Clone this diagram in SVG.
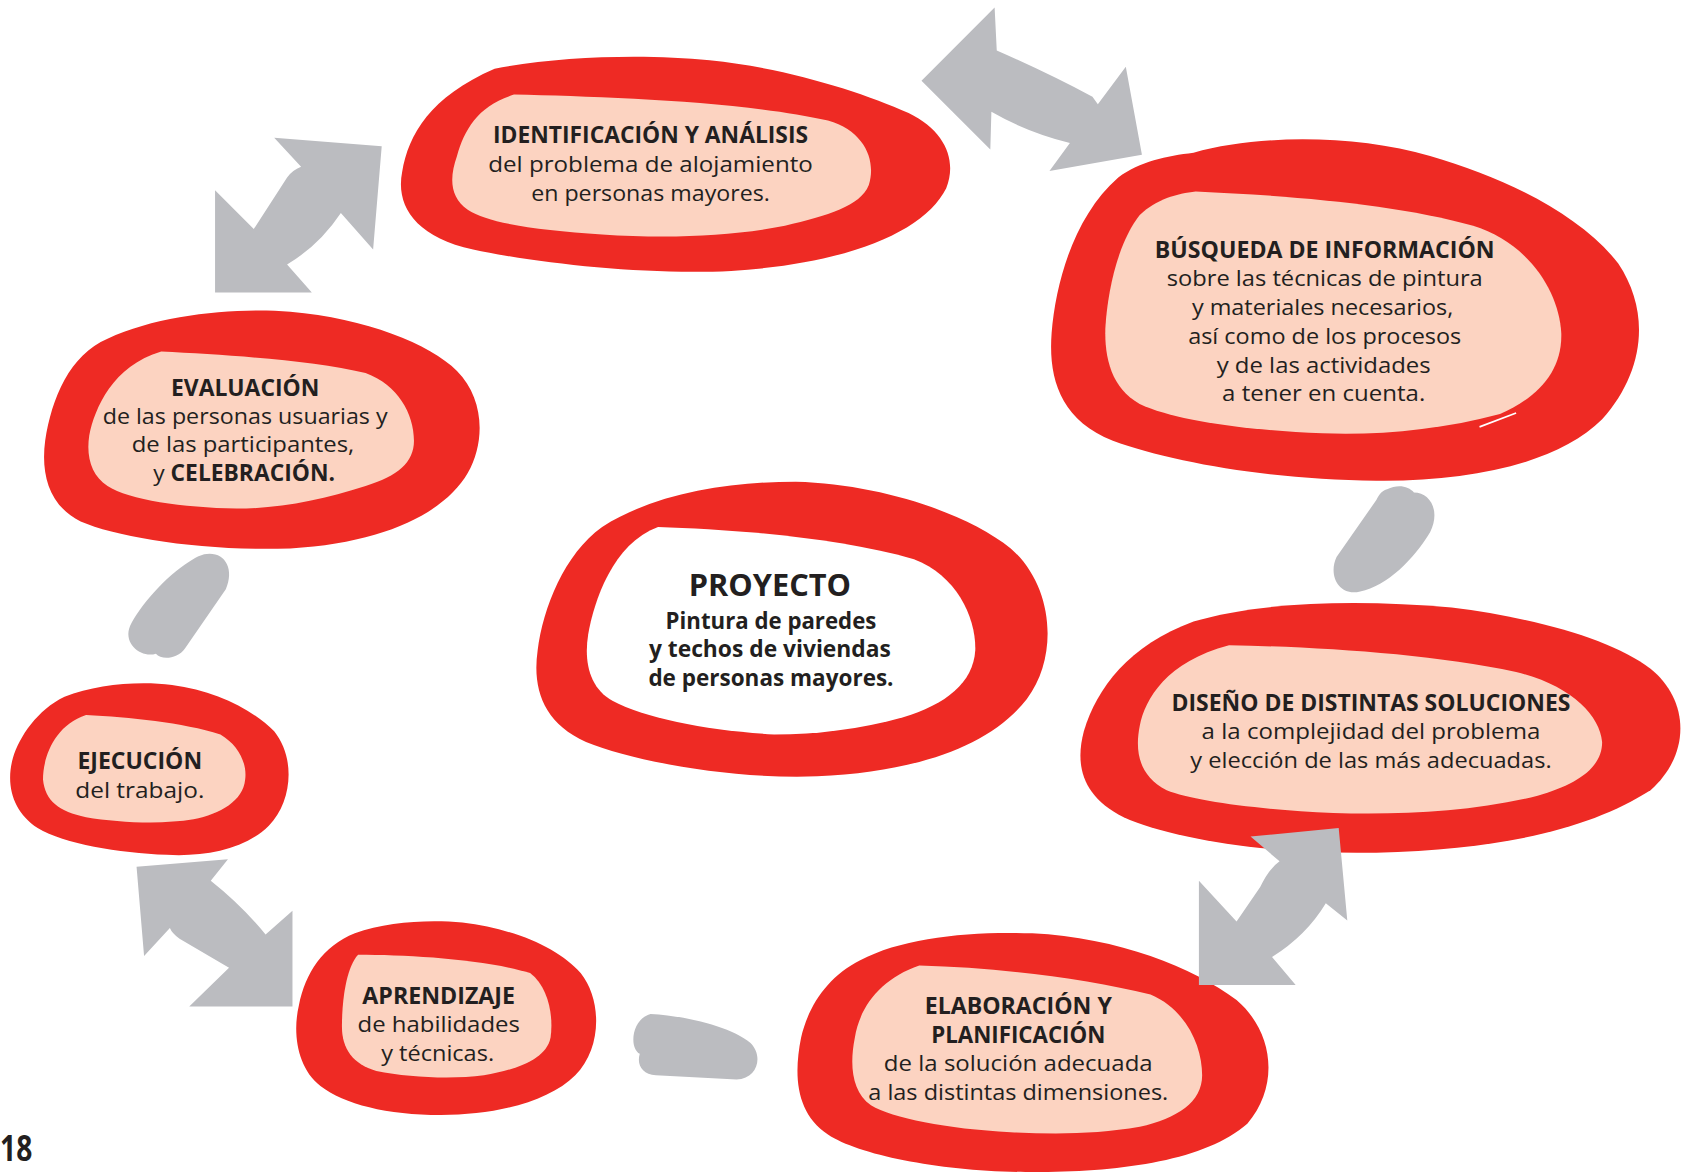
<svg xmlns="http://www.w3.org/2000/svg" width="1686" height="1172" viewBox="0 0 1686 1172">
<style>
.red{fill:#ee2a24}
.peach{fill:#fcd3c1}
.white{fill:#ffffff}
.con{fill:#bbbcc0}
text{font-family:"Open Sans","Noto Sans","Liberation Sans",sans-serif;fill:#231f20;font-size:21px;text-anchor:middle}
.b{font-weight:bold}
.big{font-size:28px}
.page{font-size:33px;text-anchor:start}
</style>
<rect width="1686" height="1172" fill="#ffffff"/>
<g transform="scale(1.07526)">
<g id="node-identificacion">
<path class="red" d="M460,64 C520,52 600,50 660,56 C730,63 800,85 845,105 C880,122 890,150 880,175 C860,215 790,245 680,252 C600,256 500,245 440,232 C385,220 368,190 374,160 C380,125 400,90 460,64 Z"/>
<path class="peach" d="M478,88 C560,90 690,94 770,112 C805,122 815,150 808,172 C800,192 770,200 730,210 C680,220 620,222 560,218 C500,214 455,208 435,195 C418,183 418,165 425,145 C432,120 445,98 478,88 Z"/>
<text class="b" x="605" y="133" textLength="293" lengthAdjust="spacingAndGlyphs">IDENTIFICACIÓN Y ANÁLISIS</text>
<text x="605" y="160" textLength="302" lengthAdjust="spacingAndGlyphs">del problema de alojamiento</text>
<text x="605" y="187" textLength="222" lengthAdjust="spacingAndGlyphs">en personas mayores.</text>
</g>
<g id="node-busqueda">
<path class="red" d="M1110,142 C1170,125 1260,125 1330,145 C1400,165 1470,200 1505,245 C1535,290 1530,345 1490,390 C1450,430 1370,448 1280,447 C1180,446 1090,430 1035,410 C985,390 975,350 978,310 C982,260 1000,200 1040,165 C1060,150 1085,145 1110,142 Z"/>
<path class="peach" d="M1112,178 C1200,182 1300,190 1370,210 C1420,225 1450,270 1452,310 C1453,345 1430,370 1395,385 C1340,400 1280,405 1230,403 C1160,400 1100,392 1065,378 C1035,365 1027,335 1028,305 C1030,270 1040,225 1060,200 C1075,185 1095,180 1112,178 Z"/>
<line x1="1376" y1="397" x2="1410" y2="384" stroke="#ffffff" stroke-width="1.5"/>
<text class="b" x="1232" y="240" textLength="316" lengthAdjust="spacingAndGlyphs">BÚSQUEDA DE INFORMACIÓN</text>
<text x="1232" y="266" textLength="294" lengthAdjust="spacingAndGlyphs">sobre las técnicas de pintura</text>
<text x="1230" y="293" textLength="243" lengthAdjust="spacingAndGlyphs">y materiales necesarios,</text>
<text x="1232" y="320" textLength="254" lengthAdjust="spacingAndGlyphs">así como de los procesos</text>
<text x="1231" y="347" textLength="199" lengthAdjust="spacingAndGlyphs">y de las actividades</text>
<text x="1231" y="373" textLength="189" lengthAdjust="spacingAndGlyphs">a tener en cuenta.</text>
</g>
<g id="node-diseno">
<path class="red" d="M1110,578 C1170,560 1260,557 1350,565 C1430,575 1500,595 1535,622 C1570,650 1574,700 1535,735 C1480,770 1400,790 1280,793 C1180,795 1090,780 1045,760 C1005,740 1000,710 1008,680 C1020,640 1050,600 1110,578 Z"/>
<path class="peach" d="M1143,600 C1230,602 1330,608 1410,625 C1460,637 1488,665 1490,690 C1490,715 1465,730 1430,740 C1370,755 1300,758 1240,756 C1170,753 1110,745 1085,735 C1060,722 1055,700 1060,675 C1065,650 1085,615 1143,600 Z"/>
<text class="b" x="1275" y="661" textLength="371" lengthAdjust="spacingAndGlyphs">DISEÑO DE DISTINTAS SOLUCIONES</text>
<text x="1275" y="687" textLength="315" lengthAdjust="spacingAndGlyphs">a la complejidad del problema</text>
<text x="1275" y="714" textLength="336" lengthAdjust="spacingAndGlyphs">y elección de las más adecuadas.</text>
</g>
<g id="node-elaboracion">
<path class="red" d="M800,893 C840,872 900,866 960,868 C1040,872 1110,900 1150,930 C1185,960 1190,1010 1160,1045 C1120,1080 1040,1090 960,1090 C880,1090 800,1075 770,1055 C740,1035 738,1000 745,965 C752,935 770,908 800,893 Z"/>
<path class="peach" d="M855,898 C930,900 1010,910 1070,925 C1105,940 1118,975 1118,1000 C1118,1025 1095,1040 1060,1048 C1020,1055 980,1055 940,1053 C880,1050 830,1040 810,1028 C792,1015 790,990 795,965 C800,935 820,910 855,898 Z"/>
<text class="b" x="947" y="943" textLength="174" lengthAdjust="spacingAndGlyphs">ELABORACIÓN Y</text>
<text class="b" x="947" y="970" textLength="162" lengthAdjust="spacingAndGlyphs">PLANIFICACIÓN</text>
<text x="947" y="996" textLength="250" lengthAdjust="spacingAndGlyphs">de la solución adecuada</text>
<text x="947" y="1023" textLength="279" lengthAdjust="spacingAndGlyphs">a las distintas dimensiones.</text>
</g>
<g id="node-aprendizaje">
<path class="red" d="M330,868 C360,857 400,855 430,858 C480,864 520,882 540,905 C560,930 560,975 535,1000 C510,1025 460,1037 410,1037 C360,1037 320,1027 298,1010 C276,993 272,960 278,935 C284,905 300,880 330,868 Z"/>
<path class="peach" d="M333,888 C380,888 450,892 493,905 C510,918 515,945 512,965 C508,985 480,995 450,1000 C420,1004 380,1002 350,996 C328,990 318,975 318,955 C318,930 322,900 333,888 Z"/>
<text class="b" x="408" y="934" textLength="142" lengthAdjust="spacingAndGlyphs">APRENDIZAJE</text>
<text x="408" y="960" textLength="151" lengthAdjust="spacingAndGlyphs">de habilidades</text>
<text x="407" y="987" textLength="105" lengthAdjust="spacingAndGlyphs">y técnicas.</text>
</g>
<g id="node-ejecucion">
<path class="red" d="M60,648 C90,636 130,633 160,637 C200,642 235,660 255,680 C275,705 272,745 250,768 C228,790 190,797 155,795 C110,793 60,785 35,770 C12,755 5,730 12,705 C18,685 35,660 60,648 Z"/>
<path class="peach" d="M80,665 C120,667 170,672 205,683 C222,693 230,710 228,725 C226,745 205,757 180,762 C150,767 110,765 80,760 C55,755 42,745 40,725 C40,705 50,675 80,665 Z"/>
<text class="b" x="130" y="715" textLength="116" lengthAdjust="spacingAndGlyphs">EJECUCIÓN</text>
<text x="130" y="742" textLength="120" lengthAdjust="spacingAndGlyphs">del trabajo.</text>
</g>
<g id="node-evaluacion">
<path class="red" d="M100,315 C150,292 220,286 270,290 C340,296 400,320 425,345 C450,370 452,410 435,440 C415,475 360,505 270,510 C190,513 110,500 75,485 C45,470 38,440 42,410 C48,370 65,330 100,315 Z"/>
<path class="peach" d="M150,327 C210,330 290,335 340,347 C370,358 385,385 385,410 C385,430 370,443 340,452 C300,465 260,473 220,473 C170,472 120,465 100,452 C85,442 80,425 83,405 C88,380 105,340 150,327 Z"/>
<text class="b" x="228" y="368" textLength="138" lengthAdjust="spacingAndGlyphs">EVALUACIÓN</text>
<text x="228" y="394" textLength="265" lengthAdjust="spacingAndGlyphs">de las personas usuarias y</text>
<text x="226" y="420" textLength="207" lengthAdjust="spacingAndGlyphs">de las participantes,</text>
<text x="227" y="447" textLength="169" lengthAdjust="spacingAndGlyphs">y <tspan class="b">CELEBRACIÓN.</tspan></text>
</g>
<g id="node-proyecto">
<path class="red" d="M560,490 C610,458 680,448 740,448 C820,450 900,478 940,510 C980,545 985,610 955,650 C920,695 850,718 760,722 C680,725 590,708 545,690 C505,672 495,640 500,605 C505,565 525,515 560,490 Z"/>
<path class="white" d="M612,490 C680,492 780,500 850,520 C890,535 908,575 907,605 C905,635 880,655 840,667 C800,678 760,683 720,683 C660,680 600,668 570,652 C548,640 543,615 547,590 C552,560 570,505 612,490 Z"/>
<text class="b big" x="716" y="554" textLength="151" lengthAdjust="spacingAndGlyphs">PROYECTO</text>
<text class="b" x="717" y="585" textLength="196" lengthAdjust="spacingAndGlyphs">Pintura de paredes</text>
<text class="b" x="716" y="611" textLength="225" lengthAdjust="spacingAndGlyphs">y techos de viviendas</text>
<text class="b" x="717" y="638" textLength="228" lengthAdjust="spacingAndGlyphs">de personas mayores.</text>
</g>
<g id="connectors">
<path class="con" d="M925,7 L927,47 Q975,68 1016,90 L1021,97 L1047,62 L1062,144 L976,159 L995,133 Q955,123 922,104 L921,139 L857,75 Z"/>
<path class="con" d="M255,128 L355,136 L347,232 L317,198 Q297,228 267,246 L290,272 L200,272 L200,177 L236,213 L267,165 Q272,158 280,155 Z"/>
<path class="con" d="M195,515 C210,515 218,530 210,548 L172,603 C165,613 150,614 145,608 C132,612 116,600 120,585 C125,570 150,540 172,525 C182,518 188,515 195,515 Z"/>
<path class="con" d="M1290,455 C1300,450 1310,452 1315,458 C1330,458 1340,475 1330,495 C1315,520 1290,545 1265,550 C1245,555 1235,535 1243,518 L1280,465 C1283,459 1286,456 1290,455 Z"/>
<path class="con" d="M1163,778 L1245,770 L1253,856 L1233,840 Q1215,870 1183,890 L1205,916 L1115,916 L1115,819 L1150,857 L1172,825 Q1180,808 1190,801 Z"/>
<path class="con" d="M605,943 C640,945 680,955 698,970 C710,982 705,1003 685,1004 L610,1000 C597,999 592,990 595,980 C585,975 587,948 605,943 Z"/>
<path class="con" d="M127,806 L212,799 L196,819 Q225,842 247,869 L272,847 L272,936 L176,936 L213,900 L167,873 Q160,868 158,863 L134,889 Z"/>
</g>
<text id="page-number" class="b page" x="0" y="1080" textLength="30" lengthAdjust="spacingAndGlyphs">18</text>
</g>
</svg>
